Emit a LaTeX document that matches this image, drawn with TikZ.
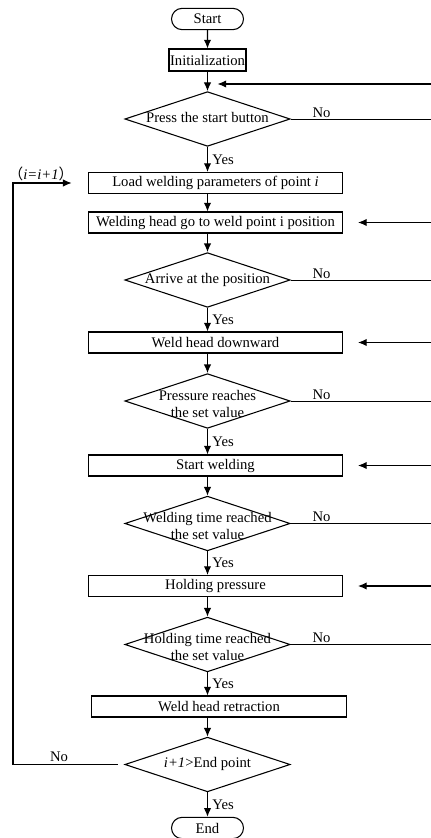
\documentclass[tikz,border=0pt]{standalone}
\usepackage{fontspec}
\setmainfont{Liberation Serif}
\newfontfamily\cjk{Noto Sans CJK SC}
\usetikzlibrary{
  shapes.geometric,%
  shapes.misc,%
  arrows.meta,
  positioning
}
\tikzset{>={Latex[length=6.5pt,width=5.5pt]}}
\tikzset{font=\fontsize{11}{12.75}\selectfont}
\tikzset{
  proc/.style={draw, line width=0.8pt, minimum width=191pt, minimum height=15.75pt, inner sep=1pt},
  decide/.style={diamond, draw, line width=0.8pt, minimum width=124pt, minimum height=41pt, inner sep=0pt},
  term/.style={rounded rectangle, draw, line width=0.8pt, minimum width=56pt, minimum height=16pt, inner sep=1pt},
  flow/.style={->, line width=0.8pt},
  back/.style={line width=0.6pt}
}
% text of a decision, not widening the diamond
\newcommand{\dtxt}[1]{\makebox[0pt]{\begin{tabular}{@{}c@{}}#1\end{tabular}}}
% two lines, set a little low in the diamond
\newcommand{\dtwo}[2]{\makebox[0pt]{\raisebox{-6pt}[0pt][0pt]{\begin{tabular}{@{}c@{}}#1\\#2\end{tabular}}}}

\begin{document}
\begin{tikzpicture}[x=0.75pt,y=-0.75pt]
  \useasboundingbox (0,0) rectangle (431,838);
  \coordinate (redge) at (431,0);
  \coordinate (ledge) at (13,0);
  \coordinate (m1) at (207.5,84);

  \node[term] (start) at (207.5,19) {Start};
  \node[draw, line width=0.8pt, minimum width=57.75pt, minimum height=16.5pt, inner sep=0.5pt] (init) at (207.5,60) {Initialization};
  \node[decide] (d1) at (207.5,119) {\dtxt{Press the start button}};
  \node[proc] (load) at (215.5,183) {Load welding parameters of point \textit{i}};
  \node[proc] (goto) at (215.5,222.5) {Welding head go to weld point i position};
  \node[decide] (d2) at (207.5,280) {\dtxt{Arrive at the position}};
  \node[proc] (down) at (215.5,342.5) {Weld head downward};
  \node[decide] (d3) at (207.5,401) {\dtwo{Pressure reaches}{the set value}};
  \node[proc] (weld) at (215.5,465.5) {Start welding};
  \node[decide] (d4) at (207.5,523.5) {\dtwo{Welding time reached}{the set value}};
  \node[proc] (hold) at (215.5,586) {Holding pressure};
  \node[decide] (d5) at (207.5,644.5) {\dtwo{Holding time reached}{the set value}};
  \node[proc] (retract) at (219,706.5) {Weld head retraction};
  \node[decide] (d6) at (207.5,764.5) {\dtxt{\textit{i+1}>End point}};
  \node[term] (end) at (207.5,828) {End};

  \draw[flow] (start) -- (init);
  \draw[flow] (init) -- (d1);
  \draw[flow] (load.south -| d1.south) -- (goto.north -| d1.south);
  \foreach \a/\b in {d1/load, d2/down, d3/weld, d4/hold, d5/retract, d6/end}
    \draw[flow] (\a.south) -- (\a.south |- \b.north) node[midway, right] {Yes};
  \foreach \a/\b in {goto/d2, down/d3, weld/d4, hold/d5, retract/d6}
    \draw[flow] (\a.south -| \b.north) -- (\b.north);

  % the No branches run off to the right
  \foreach \d in {d1, d2, d3, d4, d5}
    \draw[back] (\d.east) -- (\d.east -| redge) node[pos=0.22, above, inner sep=1pt] {No};
  \foreach \b in {goto, down, weld, hold}
    \draw[flow, shorten >=11pt] (\b.east -| redge) -- (\b.east);
  \draw[flow, shorten >=7.5pt] (m1 -| redge) -- (m1);

  % next point
  \draw[flow, shorten <=5pt, shorten >=12pt] (d6.west) -- (d6.west -| ledge) -- (load.west -| ledge) -- (load.west);
  \node[inner sep=1pt] (inc) at (41,174) {{\cjk （}\textit{i=i+1}{\cjk ）}};
  \node[inner sep=1pt] (nol) at (59,757) {No};
\end{tikzpicture}
\end{document}
